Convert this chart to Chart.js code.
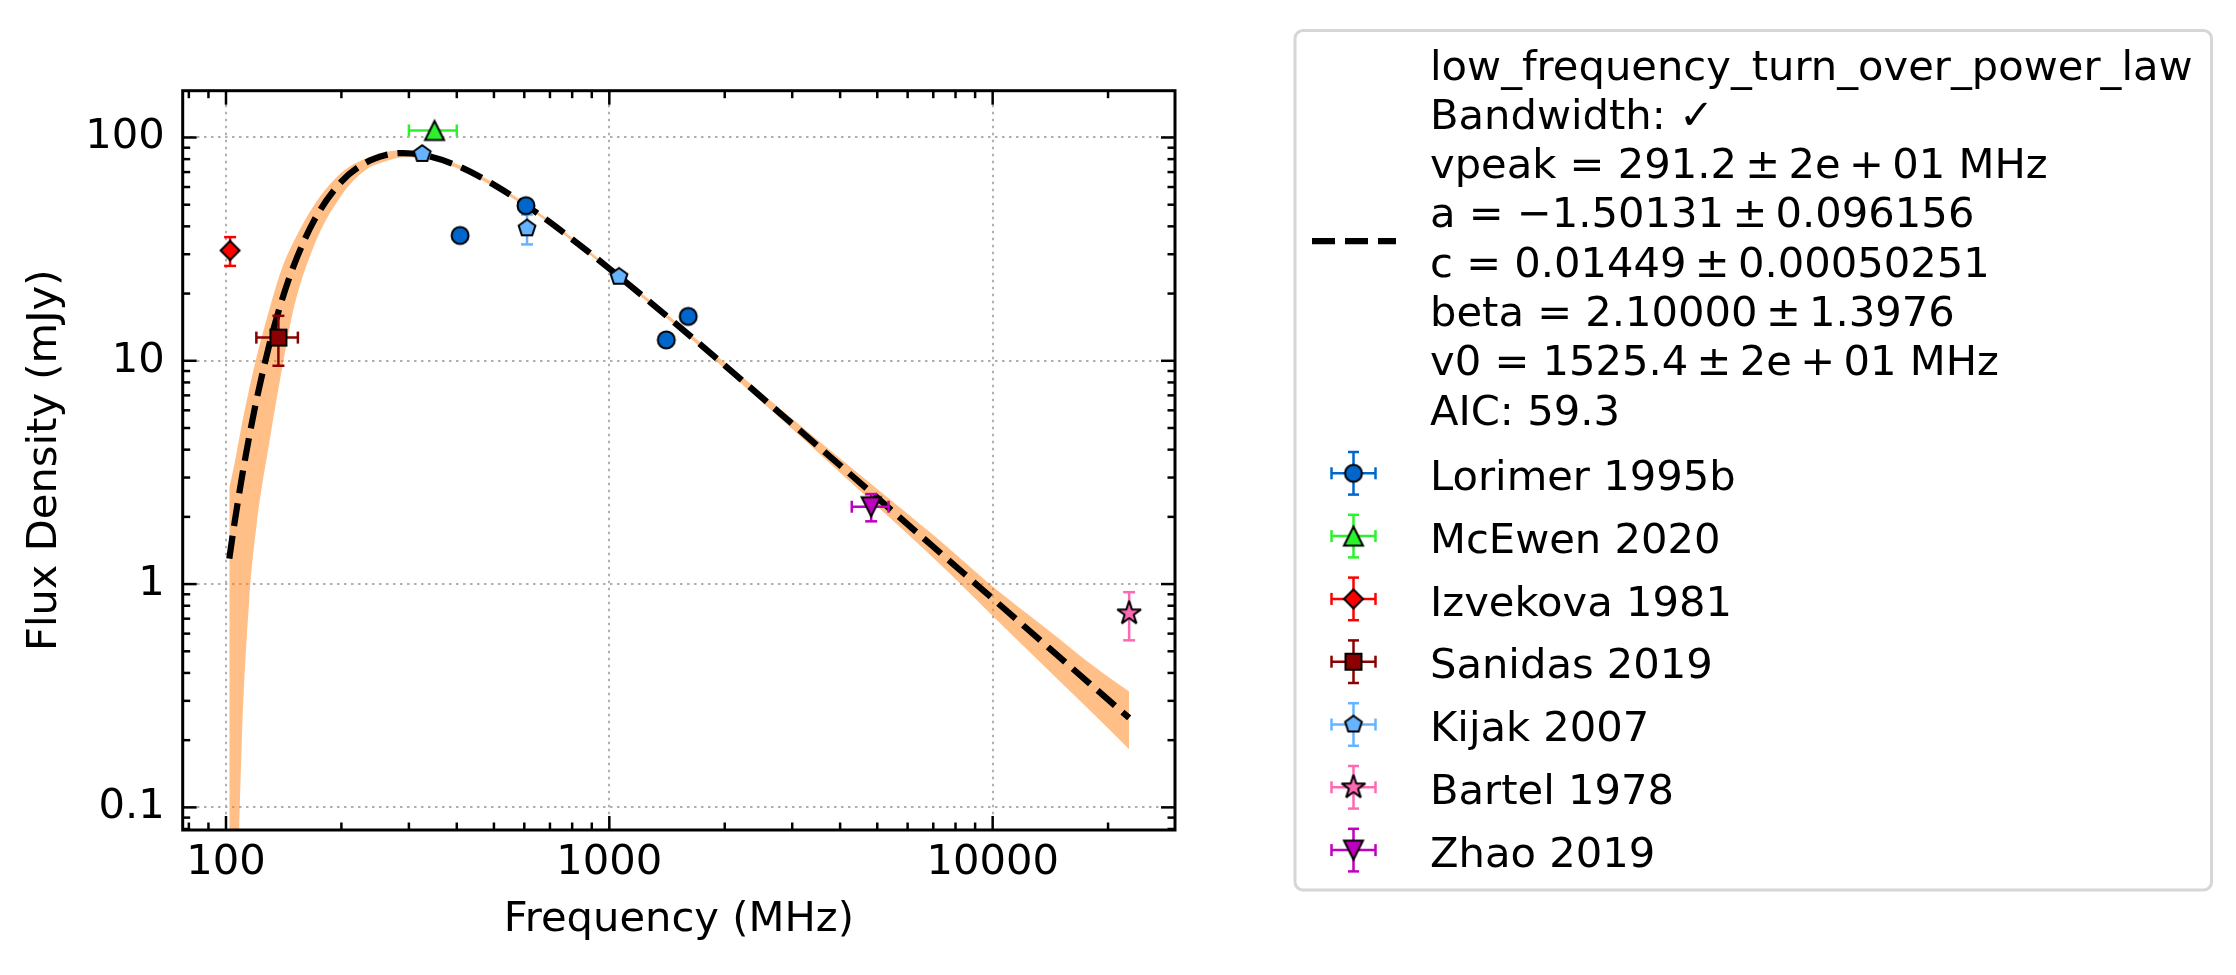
<!DOCTYPE html>
<html>
<head>
<meta charset="utf-8">
<title>Flux density spectrum</title>
<script src="https://cdn.jsdelivr.net/npm/chart.js"></script>
<style>
  html, body { margin: 0; padding: 0; background: #fff; }
  #spectrum { display: block; }
</style>
</head>
<body>
<canvas id="spectrum" width="2236" height="975"></canvas>
<script>
// axis ticks
const xTickValues = [100, 1000, 10000];
const xTickLabels = ['100', '1000', '10000'];
const yTickValues = [0.1, 1, 10, 100];
const yTickLabels = ['0.1', '1', '10', '100'];

// fitted model and its uncertainty band (MHz -> mJy)
const fitFreq = [102, 105, 110, 115, 120, 130, 140, 150, 170, 200, 230, 260, 290, 330, 400,
                 500, 650, 800, 1000, 1300, 1700, 2200, 3000, 4000, 5500, 7500, 10000, 14000, 18000, 22700];
const fitFlux = [1.30, 1.83, 3.00, 4.59, 6.62, 11.97, 18.75, 26.5, 42.7, 63.4, 76.7, 83.3, 85.2, 83.2, 74.9,
                 61.4, 45.7, 35.05, 25.88, 17.86, 12.10, 8.28, 5.22, 3.40, 2.11, 1.325, 0.861, 0.519, 0.356, 0.2515];
const fitUpper = [2.7, 3.4, 5.2, 7.5, 10.3, 17.2, 26, 34, 50, 69.5, 80, 86, 87.5, 85, 76,
                  62.5, 46.5, 35.6, 26.3, 18.2, 12.4, 8.6, 5.5, 3.65, 2.33, 1.5, 0.975, 0.62, 0.44, 0.33];
const fitLower = [0.001, 0.01, 0.2, 0.85, 1.8, 4.4, 9.2, 17, 33, 55, 71, 78, 81.5, 80.5, 73,
                  60, 45, 34.4, 25.4, 17.5, 11.8, 7.95, 4.95, 3.15, 1.92, 1.17, 0.72, 0.41, 0.27, 0.182];

// math parts use thin spaces around the operators, like the original mathtext
const fitLegend = [
    'low_frequency_turn_over_power_law',
    'Bandwidth: \u2713',
    'vpeak = 291.2\u2009\u00b1\u20092e\u2009+\u200901 MHz',
    'a = \u22121.50131\u2009\u00b1\u20090.096156',
    'c = 0.01449\u2009\u00b1\u20090.00050251',
    'beta = 2.10000\u2009\u00b1\u20091.3976',
    'v0 = 1525.4\u2009\u00b1\u20092e\u2009+\u200901 MHz',
    'AIC: 59.3',
];

// measurements: frequency, bandwidth half-width, flux, flux error
const lorimerFreq = [408, 606, 1408, 1606];
const lorimerBw = [0, 0, 0, 0];
const lorimerFlux = [36.4, 49.5, 12.4, 15.8];
const lorimerErr = [2.2, 3.0, 0.75, 0.95];

const mcewenFreq = [350];
const mcewenBw = [50];
const mcewenFlux = [107.5];
const mcewenErr = [0];

const izvekovaFreq = [102.5];
const izvekovaBw = [0];
const izvekovaFlux = [31.2];
const izvekovaErr = [4.6];

const sanidasFreq = [137];
const sanidasBw = [17];
const sanidasFlux = [12.7];
const sanidasErr = [3.2];

const kijakFreq = [325, 610, 1060];
const kijakBw = [0, 0, 0];
const kijakFlux = [84.4, 39.2, 23.8];
const kijakErr = [3, 6, 1.0];

const bartelFreq = [22700];
const bartelBw = [0];
const bartelFlux = [0.74];
const bartelErr = [0.18];

const zhaoFreq = [4820];
const zhaoBw = [530];
const zhaoFlux = [2.22];
const zhaoErr = [0.31];

const FONT = 'DejaVu Sans';
const FS = 41.67;
Chart.defaults.font.family = FONT;
Chart.defaults.font.size = FS;
Chart.defaults.color = '#000';

const makeMarker = (shape, fill) => {
    const size = 34;
    const c = document.createElement('canvas');
    c.width = size;
    c.height = size;
    const g = c.getContext('2d');
    g.translate(size / 2, size / 2);
    g.beginPath();
    let join = 'miter';
    if (shape === 'circle') {
        g.arc(0, 0, 8.5, 0, Math.PI * 2);
        join = 'round';
    } else if (shape === 'triangle') {
        g.moveTo(0, -9.5); g.lineTo(9.5, 9.5); g.lineTo(-9.5, 9.5); g.closePath();
    } else if (shape === 'triangleDown') {
        g.moveTo(0, 9.5); g.lineTo(9.5, -9.5); g.lineTo(-9.5, -9.5); g.closePath();
    } else if (shape === 'diamond') {
        g.moveTo(0, -9.5); g.lineTo(9.5, 0); g.lineTo(0, 9.5); g.lineTo(-9.5, 0); g.closePath();
    } else if (shape === 'square') {
        g.rect(-8, -8, 16, 16);
    } else if (shape === 'pentagon') {
        for (let k = 0; k < 5; k++) {
            const a = -Math.PI / 2 + k * 2 * Math.PI / 5;
            const px = 8.8 * Math.cos(a), py = 8.8 * Math.sin(a);
            if (k) g.lineTo(px, py); else g.moveTo(px, py);
        }
        g.closePath();
    } else if (shape === 'star') {
        for (let k = 0; k < 10; k++) {
            const r = k % 2 ? 12.5 * 0.382 : 12.5;
            const a = -Math.PI / 2 + k * Math.PI / 5;
            const px = r * Math.cos(a), py = r * Math.sin(a);
            if (k) g.lineTo(px, py); else g.moveTo(px, py);
        }
        g.closePath();
        join = 'bevel';
    }
    g.fillStyle = fill;
    g.fill();
    g.lineWidth = 2;
    g.lineJoin = join;
    g.strokeStyle = '#000';
    g.stroke();
    return c;
};

const surveys = [
    { label: 'Lorimer 1995b', freq: lorimerFreq, bw: lorimerBw, flux: lorimerFlux, err: lorimerErr, color: '#0066cc', shape: 'circle' },
    { label: 'McEwen 2020', freq: mcewenFreq, bw: mcewenBw, flux: mcewenFlux, err: mcewenErr, color: '#2cf22c', shape: 'triangle' },
    { label: 'Izvekova 1981', freq: izvekovaFreq, bw: izvekovaBw, flux: izvekovaFlux, err: izvekovaErr, color: '#ff0000', shape: 'diamond' },
    { label: 'Sanidas 2019', freq: sanidasFreq, bw: sanidasBw, flux: sanidasFlux, err: sanidasErr, color: '#8b0000', shape: 'square' },
    { label: 'Kijak 2007', freq: kijakFreq, bw: kijakBw, flux: kijakFlux, err: kijakErr, color: '#66b3ff', shape: 'pentagon' },
    { label: 'Bartel 1978', freq: bartelFreq, bw: bartelBw, flux: bartelFlux, err: bartelErr, color: '#ff69b4', shape: 'star' },
    { label: 'Zhao 2019', freq: zhaoFreq, bw: zhaoBw, flux: zhaoFlux, err: zhaoErr, color: '#c000c0', shape: 'triangleDown' },
];
surveys.forEach(s => { s.marker = makeMarker(s.shape, s.color); });

const seg = (ctx, x1, y1, x2, y2) => {
    ctx.beginPath();
    ctx.moveTo(x1, y1);
    ctx.lineTo(x2, y2);
    ctx.stroke();
};

// error bars go under each survey's markers
const errorBars = {
    id: 'errorBars',
    beforeDatasetDraw(chart, args) {
        const ds = chart.data.datasets[args.index];
        if (!ds.fluxErr) return;
        const { ctx, scales: { x, y } } = chart;
        const cap = 6;
        ctx.save();
        ctx.strokeStyle = ds.errColor;
        ctx.lineWidth = 2.5;
        ds.data.forEach((p, i) => {
            const px = x.getPixelForValue(p.x);
            const py = y.getPixelForValue(p.y);
            const bw = ds.bandErr[i];
            const fe = ds.fluxErr[i];
            if (bw > 0) {
                const x0 = x.getPixelForValue(p.x - bw);
                const x1 = x.getPixelForValue(p.x + bw);
                seg(ctx, x0, py, x1, py);
                seg(ctx, x0, py - cap, x0, py + cap);
                seg(ctx, x1, py - cap, x1, py + cap);
            }
            if (fe > 0) {
                const y0 = y.getPixelForValue(p.y - fe);
                const y1 = y.getPixelForValue(p.y + fe);
                seg(ctx, px, y0, px, y1);
                seg(ctx, px - cap, y0, px + cap, y0);
                seg(ctx, px - cap, y1, px + cap, y1);
            }
        });
        ctx.restore();
    },
};

const logSteps = (scale) => {
    const out = [];
    const e0 = Math.floor(Math.log10(scale.min));
    const e1 = Math.ceil(Math.log10(scale.max));
    for (let e = e0; e <= e1; e++) {
        for (let k = 1; k <= 9; k++) {
            const v = k * Math.pow(10, e);
            if (v >= scale.min && v <= scale.max) out.push({ v, major: k === 1 });
        }
    }
    return out;
};

// inward ticks on all four sides plus the frame
const axesFrame = {
    id: 'axesFrame',
    afterDatasetsDraw(chart) {
        const { ctx, chartArea: a, scales: { x, y } } = chart;
        ctx.save();
        ctx.strokeStyle = '#000';
        ctx.lineWidth = 2.5;
        logSteps(x).forEach(t => {
            const px = x.getPixelForValue(t.v);
            const len = t.major ? 14 : 7.5;
            seg(ctx, px, a.bottom, px, a.bottom - len);
            seg(ctx, px, a.top, px, a.top + len);
        });
        logSteps(y).forEach(t => {
            const py = y.getPixelForValue(t.v);
            const len = t.major ? 14 : 7.5;
            seg(ctx, a.left, py, a.left + len, py);
            seg(ctx, a.right, py, a.right - len, py);
        });
        ctx.lineWidth = 3;
        ctx.strokeRect(a.left, a.top, a.right - a.left, a.bottom - a.top);
        ctx.restore();
    },
};

const legendBox = {
    id: 'legendBox',
    afterDraw(chart) {
        const ctx = chart.ctx;
        const textX = 1430;
        const handleX = 1353.5;
        ctx.save();
        ctx.font = `${FS}px "${FONT}"`;
        let maxW = 0;
        fitLegend.forEach(t => { maxW = Math.max(maxW, ctx.measureText(t).width); });
        const l = 1295, t = 30.5, r = textX + maxW + 19, b = 890, rad = 8;
        ctx.beginPath();
        ctx.roundRect(l, t, r - l, b - t, rad);
        ctx.fillStyle = 'rgba(255,255,255,0.8)';
        ctx.fill();
        ctx.lineWidth = 3;
        ctx.strokeStyle = '#d6d6d6';
        ctx.stroke();

        // fit entry
        ctx.strokeStyle = '#000';
        ctx.lineWidth = 6.25;
        ctx.setLineDash([23, 10]);
        seg(ctx, 1312, 241, 1396, 241);
        ctx.setLineDash([]);
        ctx.fillStyle = '#000';
        ctx.textAlign = 'left';
        ctx.textBaseline = 'alphabetic';
        fitLegend.forEach((line, i) => ctx.fillText(line, textX, 79.5 + i * 49.3));

        // survey entries
        surveys.forEach((s, i) => {
            const cy = 473.3 + i * 62.8;
            ctx.strokeStyle = s.color;
            ctx.lineWidth = 2.5;
            seg(ctx, handleX - 22, cy, handleX + 22, cy);
            seg(ctx, handleX - 22, cy - 6, handleX - 22, cy + 6);
            seg(ctx, handleX + 22, cy - 6, handleX + 22, cy + 6);
            seg(ctx, handleX, cy - 21.3, handleX, cy + 21.3);
            seg(ctx, handleX - 5.5, cy - 21.3, handleX + 5.5, cy - 21.3);
            seg(ctx, handleX - 5.5, cy + 21.3, handleX + 5.5, cy + 21.3);
            ctx.drawImage(s.marker, handleX - s.marker.width / 2, cy - s.marker.height / 2);
            ctx.fillText(s.label, textX, cy + 16.7);
        });
        ctx.restore();
    },
};

const toPoints = (xs, ys) => xs.map((v, i) => ({ x: v, y: ys[i] }));

const datasets = [
    {
        label: 'fit upper',
        data: toPoints(fitFreq, fitUpper),
        showLine: true,
        borderWidth: 0,
        borderColor: 'rgba(0,0,0,0)',
        backgroundColor: 'rgba(255,127,14,0.5)',
        fill: '+1',
        pointRadius: 0,
        cubicInterpolationMode: 'monotone',
        order: 3,
    },
    {
        label: 'fit lower',
        data: toPoints(fitFreq, fitLower),
        showLine: true,
        borderWidth: 0,
        borderColor: 'rgba(0,0,0,0)',
        fill: false,
        pointRadius: 0,
        cubicInterpolationMode: 'monotone',
        order: 3,
    },
    {
        label: 'low_frequency_turn_over_power_law',
        data: toPoints(fitFreq, fitFlux),
        showLine: true,
        borderColor: '#000',
        borderWidth: 6.25,
        borderDash: [23, 10],
        fill: false,
        pointRadius: 0,
        cubicInterpolationMode: 'monotone',
        order: 2,
    },
    ...surveys.map(s => ({
        label: s.label,
        data: toPoints(s.freq, s.flux),
        bandErr: s.bw,
        fluxErr: s.err,
        errColor: s.color,
        pointStyle: s.marker,
        pointRadius: 10,
        showLine: false,
        order: 1,
    })),
];

const chart = new Chart(document.getElementById('spectrum').getContext('2d'), {
    type: 'scatter',
    data: { datasets },
    options: {
        responsive: false,
        animation: false,
        devicePixelRatio: 1,
        layout: { padding: { left: 0, top: 90.7, right: 1061, bottom: 0 } },
        plugins: {
            legend: { display: false },
            tooltip: { enabled: false },
        },
        scales: {
            x: {
                type: 'logarithmic',
                min: 77.1,
                max: 29900,
                afterBuildTicks: s => { s.ticks = xTickValues.map(v => ({ value: v })); },
                afterFit: s => { s.height = 145; },
                ticks: { callback: (v, i) => xTickLabels[i], padding: 8, maxRotation: 0, autoSkip: false },
                grid: { color: '#b0b0b0', lineWidth: 2, drawTicks: false },
                border: { display: false, dash: [2.5, 4.5] },
                title: { display: true, text: 'Frequency (MHz)', padding: { top: 0, bottom: 29.4 } },
            },
            y: {
                type: 'logarithmic',
                min: 0.0792,
                max: 162,
                afterBuildTicks: s => { s.ticks = yTickValues.map(v => ({ value: v })); },
                afterFit: s => { s.width = 182.7; },
                ticks: { callback: (v, i) => yTickLabels[i], padding: 18, autoSkip: false },
                grid: { color: '#b0b0b0', lineWidth: 2, drawTicks: false },
                border: { display: false, dash: [2.5, 4.5] },
                title: { display: true, text: 'Flux Density (mJy)', padding: { top: 19.9, bottom: 0 } },
            },
        },
    },
    plugins: [errorBars, axesFrame, legendBox],
});
</script>
</body>
</html>
